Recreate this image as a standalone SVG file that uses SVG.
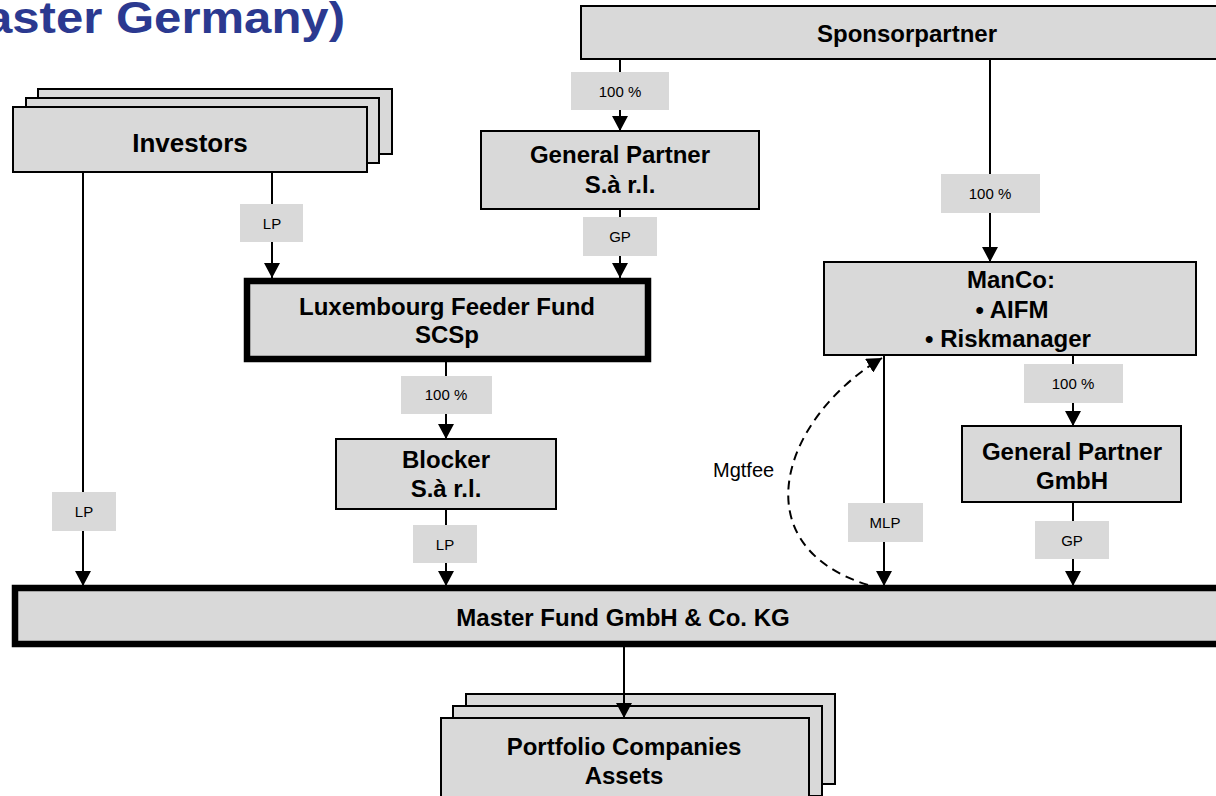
<svg xmlns="http://www.w3.org/2000/svg" width="1216" height="796" viewBox="0 0 1216 796">
  <style>
    .box { fill: #d9d9d9; stroke: #000; stroke-width: 2; }
    .heavy { fill: #d9d9d9; stroke: #000; stroke-width: 6.5; }
    .tag { fill: #d9d9d9; stroke: none; }
    .name { font-family: "Liberation Sans", Arial, sans-serif; font-weight: bold; font-size: 24px; fill: #000; text-anchor: middle; }
    .small { font-family: "Liberation Sans", Arial, sans-serif; font-size: 15px; fill: #000; text-anchor: middle; }
    .link { fill: none; stroke: #000; stroke-width: 2; }
    .fee { fill: none; stroke: #000; stroke-width: 2; stroke-dasharray: 9 6; }
    .title { font-family: "Liberation Sans", Arial, sans-serif; font-weight: bold; font-size: 44px; fill: #2b3990; }
  </style>
  <defs>
    <marker id="head" markerUnits="userSpaceOnUse" markerWidth="16" markerHeight="16" refX="15" refY="8" orient="auto">
      <path d="M0,0 L15,8 L0,16 Z" fill="#000"/>
    </marker>
  </defs>

  <rect width="1216" height="796" fill="#fff"/>

  <!-- slide heading, running off the left edge -->
  <text class="title" x="-15" y="33" textLength="360" lengthAdjust="spacingAndGlyphs">aster Germany)</text>

  <!-- nodes -->
  <g id="investors">
    <rect class="box" x="38" y="89" width="354" height="65"/>
    <rect class="box" x="26" y="98" width="353" height="65"/>
    <rect class="box" x="13" y="107" width="354" height="65"/>
    <text class="name" x="190" y="152" style="font-size:26px">Investors</text>
  </g>

  <g id="sponsorpartner">
    <rect class="box" x="581" y="6" width="660" height="53"/>
    <text class="name" x="907" y="42">Sponsorpartner</text>
  </g>

  <g id="gp-sarl">
    <rect class="box" x="481" y="131" width="278" height="78"/>
    <text class="name" x="620" y="163">General Partner</text>
    <text class="name" x="620" y="193">S.à r.l.</text>
  </g>

  <g id="feeder-fund">
    <rect class="heavy" x="247" y="281" width="401" height="78"/>
    <text class="name" x="447" y="315">Luxembourg Feeder Fund</text>
    <text class="name" x="447" y="343">SCSp</text>
  </g>

  <g id="blocker">
    <rect class="box" x="336" y="439" width="220" height="70"/>
    <text class="name" x="446" y="468">Blocker</text>
    <text class="name" x="446" y="497">S.à r.l.</text>
  </g>

  <g id="manco">
    <rect class="box" x="824" y="262" width="372" height="93"/>
    <text class="name" x="1011" y="288">ManCo:</text>
    <text class="name" x="1012" y="318">• AIFM</text>
    <text class="name" x="1008" y="347">• Riskmanager</text>
  </g>

  <g id="gp-gmbh">
    <rect class="box" x="962" y="426" width="219" height="76"/>
    <text class="name" x="1072" y="460">General Partner</text>
    <text class="name" x="1072" y="489">GmbH</text>
  </g>

  <g id="master-fund">
    <rect class="heavy" x="15" y="588" width="1225" height="56"/>
    <text class="name" x="623" y="626">Master Fund GmbH &amp; Co. KG</text>
  </g>

  <g id="portfolio">
    <rect class="box" x="466" y="694" width="369" height="90"/>
    <rect class="box" x="453" y="706" width="369" height="90"/>
    <rect class="box" x="441" y="718" width="368" height="90"/>
    <text class="name" x="624" y="755">Portfolio Companies</text>
    <text class="name" x="624" y="784">Assets</text>
  </g>

  <!-- connectors, drawn last so arrowheads sit on top of the boxes -->
  <g id="connectors">
    <line class="link" x1="83" y1="172" x2="83" y2="586" marker-end="url(#head)"/>
    <line class="link" x1="272" y1="172" x2="272" y2="278" marker-end="url(#head)"/>
    <line class="link" x1="620" y1="59" x2="620" y2="131" marker-end="url(#head)"/>
    <line class="link" x1="620" y1="209" x2="620" y2="278" marker-end="url(#head)"/>
    <line class="link" x1="446" y1="362" x2="446" y2="439" marker-end="url(#head)"/>
    <line class="link" x1="446" y1="509" x2="446" y2="586" marker-end="url(#head)"/>
    <line class="link" x1="990" y1="59" x2="990" y2="262" marker-end="url(#head)"/>
    <line class="link" x1="884" y1="355" x2="884" y2="586" marker-end="url(#head)"/>
    <line class="link" x1="1073" y1="355" x2="1073" y2="426" marker-end="url(#head)"/>
    <line class="link" x1="1073" y1="502" x2="1073" y2="586" marker-end="url(#head)"/>
    <line class="link" x1="624" y1="647" x2="624" y2="718" marker-end="url(#head)"/>
    <path class="fee" d="M868,585 C740,545 782,418 882,358" marker-end="url(#head)"/>

    <!-- connector labels -->
    <rect class="tag" x="240" y="204" width="63" height="38"/>
    <text class="small" x="272" y="229">LP</text>
    <rect class="tag" x="52" y="492" width="64" height="39"/>
    <text class="small" x="84" y="517">LP</text>
    <rect class="tag" x="571" y="72" width="98" height="38"/>
    <text class="small" x="620" y="97">100 %</text>
    <rect class="tag" x="583" y="217" width="74" height="39"/>
    <text class="small" x="620" y="242">GP</text>
    <rect class="tag" x="401" y="376" width="91" height="38"/>
    <text class="small" x="446" y="400">100 %</text>
    <rect class="tag" x="413" y="525" width="64" height="38"/>
    <text class="small" x="445" y="550">LP</text>
    <rect class="tag" x="941" y="174" width="99" height="39"/>
    <text class="small" x="990" y="199">100 %</text>
    <rect class="tag" x="848" y="503" width="75" height="39"/>
    <text class="small" x="885" y="528">MLP</text>
    <rect class="tag" x="1024" y="364" width="99" height="39"/>
    <text class="small" x="1073" y="389">100 %</text>
    <rect class="tag" x="1035" y="521" width="74" height="38"/>
    <text class="small" x="1072" y="546">GP</text>
    <text class="small" x="713" y="477" style="text-anchor:start;font-size:20px">Mgtfee</text>
  </g>
</svg>
